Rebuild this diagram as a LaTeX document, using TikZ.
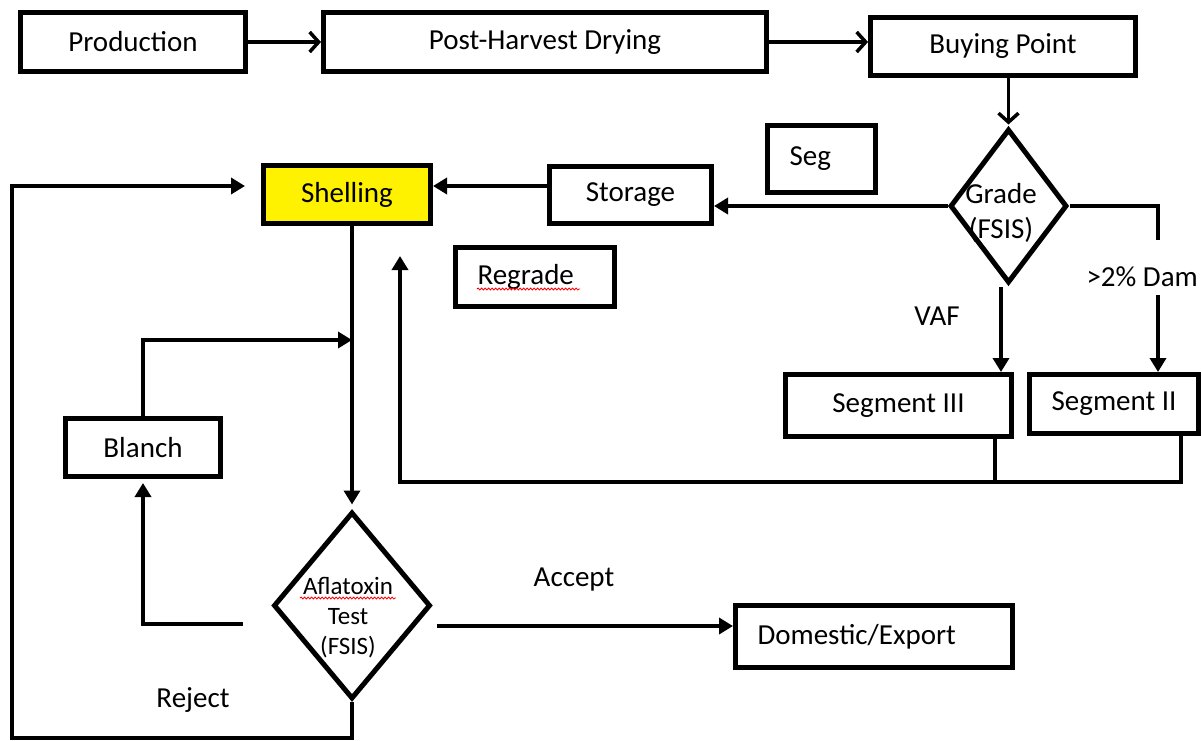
\documentclass[tikz,border=0pt]{standalone}
\usepackage{fontspec}
\setmainfont{Carlito}
\usetikzlibrary{arrows.meta,shapes.geometric,decorations.pathmorphing}

\begin{document}
\begin{tikzpicture}[x=1pt,y=-1pt,
  font=\fontsize{29}{35}\selectfont,
  box/.style={draw, line width=5pt, rectangle, inner sep=0pt},
  lbox/.style={box, align=left, inner xsep=22pt},
  dia/.style={draw, line width=5pt, diamond, inner sep=0pt},
  flow/.style={line width=4.5pt, -{Triangle[length=14pt,width=16pt]}},
  openarrow/.style={line width=3.5pt, -{Straight Barb[length=9pt,width=20pt,line width=3.5pt]}},
  wire/.style={line width=4.5pt},
  squig/.style={red, line width=0.8pt, decorate,
    decoration={snake, amplitude=1pt, segment length=3.5pt}}
]
\useasboundingbox (0,0) rectangle (1202,740);

% process boxes
\node[box, minimum width=225pt, minimum height=59pt] (prod) at (133,42) {Production};
\node[box, minimum width=443pt, minimum height=59pt] (dry) at (545,42) {Post-Harvest Drying};
\node[box, minimum width=265pt, minimum height=58pt] (buy) at (1003,46.5) {Buying Point};
\node[box, minimum width=162pt, minimum height=57pt] (stor) at (630.5,195) {Storage};
\node[box, fill=yellow, minimum width=167pt, minimum height=58pt] (shell) at (347,194.5) {Shelling};
\node[lbox, text width=64pt, minimum height=67pt] (seg) at (821.5,159) {Seg};
\node[lbox, text width=115pt, minimum height=59pt] (regr) at (535,277) {Regrade};
\node[box, minimum width=226pt, minimum height=62pt] (seg3) at (898.5,405.5) {Segment III};
\node[box, minimum width=169pt, minimum height=59pt] (seg2) at (1114,404) {Segment II};
\node[box, minimum width=155pt, minimum height=58pt] (blanch) at (143,447.5) {Blanch};
\node[lbox, text width=233pt, minimum height=62pt] (dom) at (874,636.5) {Domestic/Export};

% decision diamonds and their texts
\node[dia, minimum width=117pt, minimum height=154pt] (grade) at (1008.5,206) {};
\node[align=center] (gradetext) at (1001,213) {Grade\\(FSIS)};
\node[dia, minimum width=157pt, minimum height=187pt] (afl) at (352,605.5) {};
\node[align=center, font=\fontsize{25}{30}\selectfont] (afltext) at (348,618) {Aflatoxin\\Test\\(FSIS)};

% spell-check underlines
\draw[squig] (477,289) -- (580,289);
\draw[squig] (300,598) -- (396,598);

% labels
\node (vafl) at (937,316) {VAF};
\node[anchor=west] (daml) at (1083,277) {>2\% Dam};
\node (accl) at (574,580) {Accept};
\node (rejl) at (193,700) {Reject};

% free ends and corners of connectors
\coordinate (bj) at (352,340);
\coordinate (rej) at (243,624);
\coordinate (acc) at (437,626);
\coordinate (dm1) at (1158,240);
\coordinate (dm2) at (1158,295);
\coordinate (vaf) at (1001,287);
\coordinate (rb) at (400,482);
\coordinate (rt) at (400,256);
\coordinate (lb) at (12,738);
\coordinate (lt) at (245,186);

% top row
\draw[openarrow] (prod.east) -- (dry.west);
\draw[openarrow] (dry.east) -- (dry.east -| buy.west);
\draw[openarrow, line width=2.5pt] (grade.north |- buy.south) -- ([yshift=2pt]grade.north);

% grading branches
\draw[flow] (grade.west) -- (grade.west -| stor.east);
\draw[flow] ([yshift=9pt]stor.west) -- ([yshift=9pt]stor.west -| shell.east);
\draw[wire] (grade.east) -| (dm1);
\draw[flow] (dm2) -- (dm2 |- seg2.north);
\draw[flow] (vaf) -- (vaf |- seg3.north);

% regrade return
\draw[flow] ([xshift=67pt]seg2.south) |- (rb) -- (rt);
\draw[wire] ([xshift=96.5pt]seg3.south) -- ([xshift=96.5pt]seg3.south |- rb);

% shelling and aflatoxin test
\draw[flow] (afl.north |- shell.south) -- ([yshift=5pt]afl.north);
\draw[flow] (blanch.north) |- (bj);
\draw[flow] (rej) -| ([yshift=-4pt]blanch.south);
\draw[flow] (acc) -- (acc -| dom.west);
\draw[flow] (afl.south) |- (lb) |- (lt);
\end{tikzpicture}
\end{document}
